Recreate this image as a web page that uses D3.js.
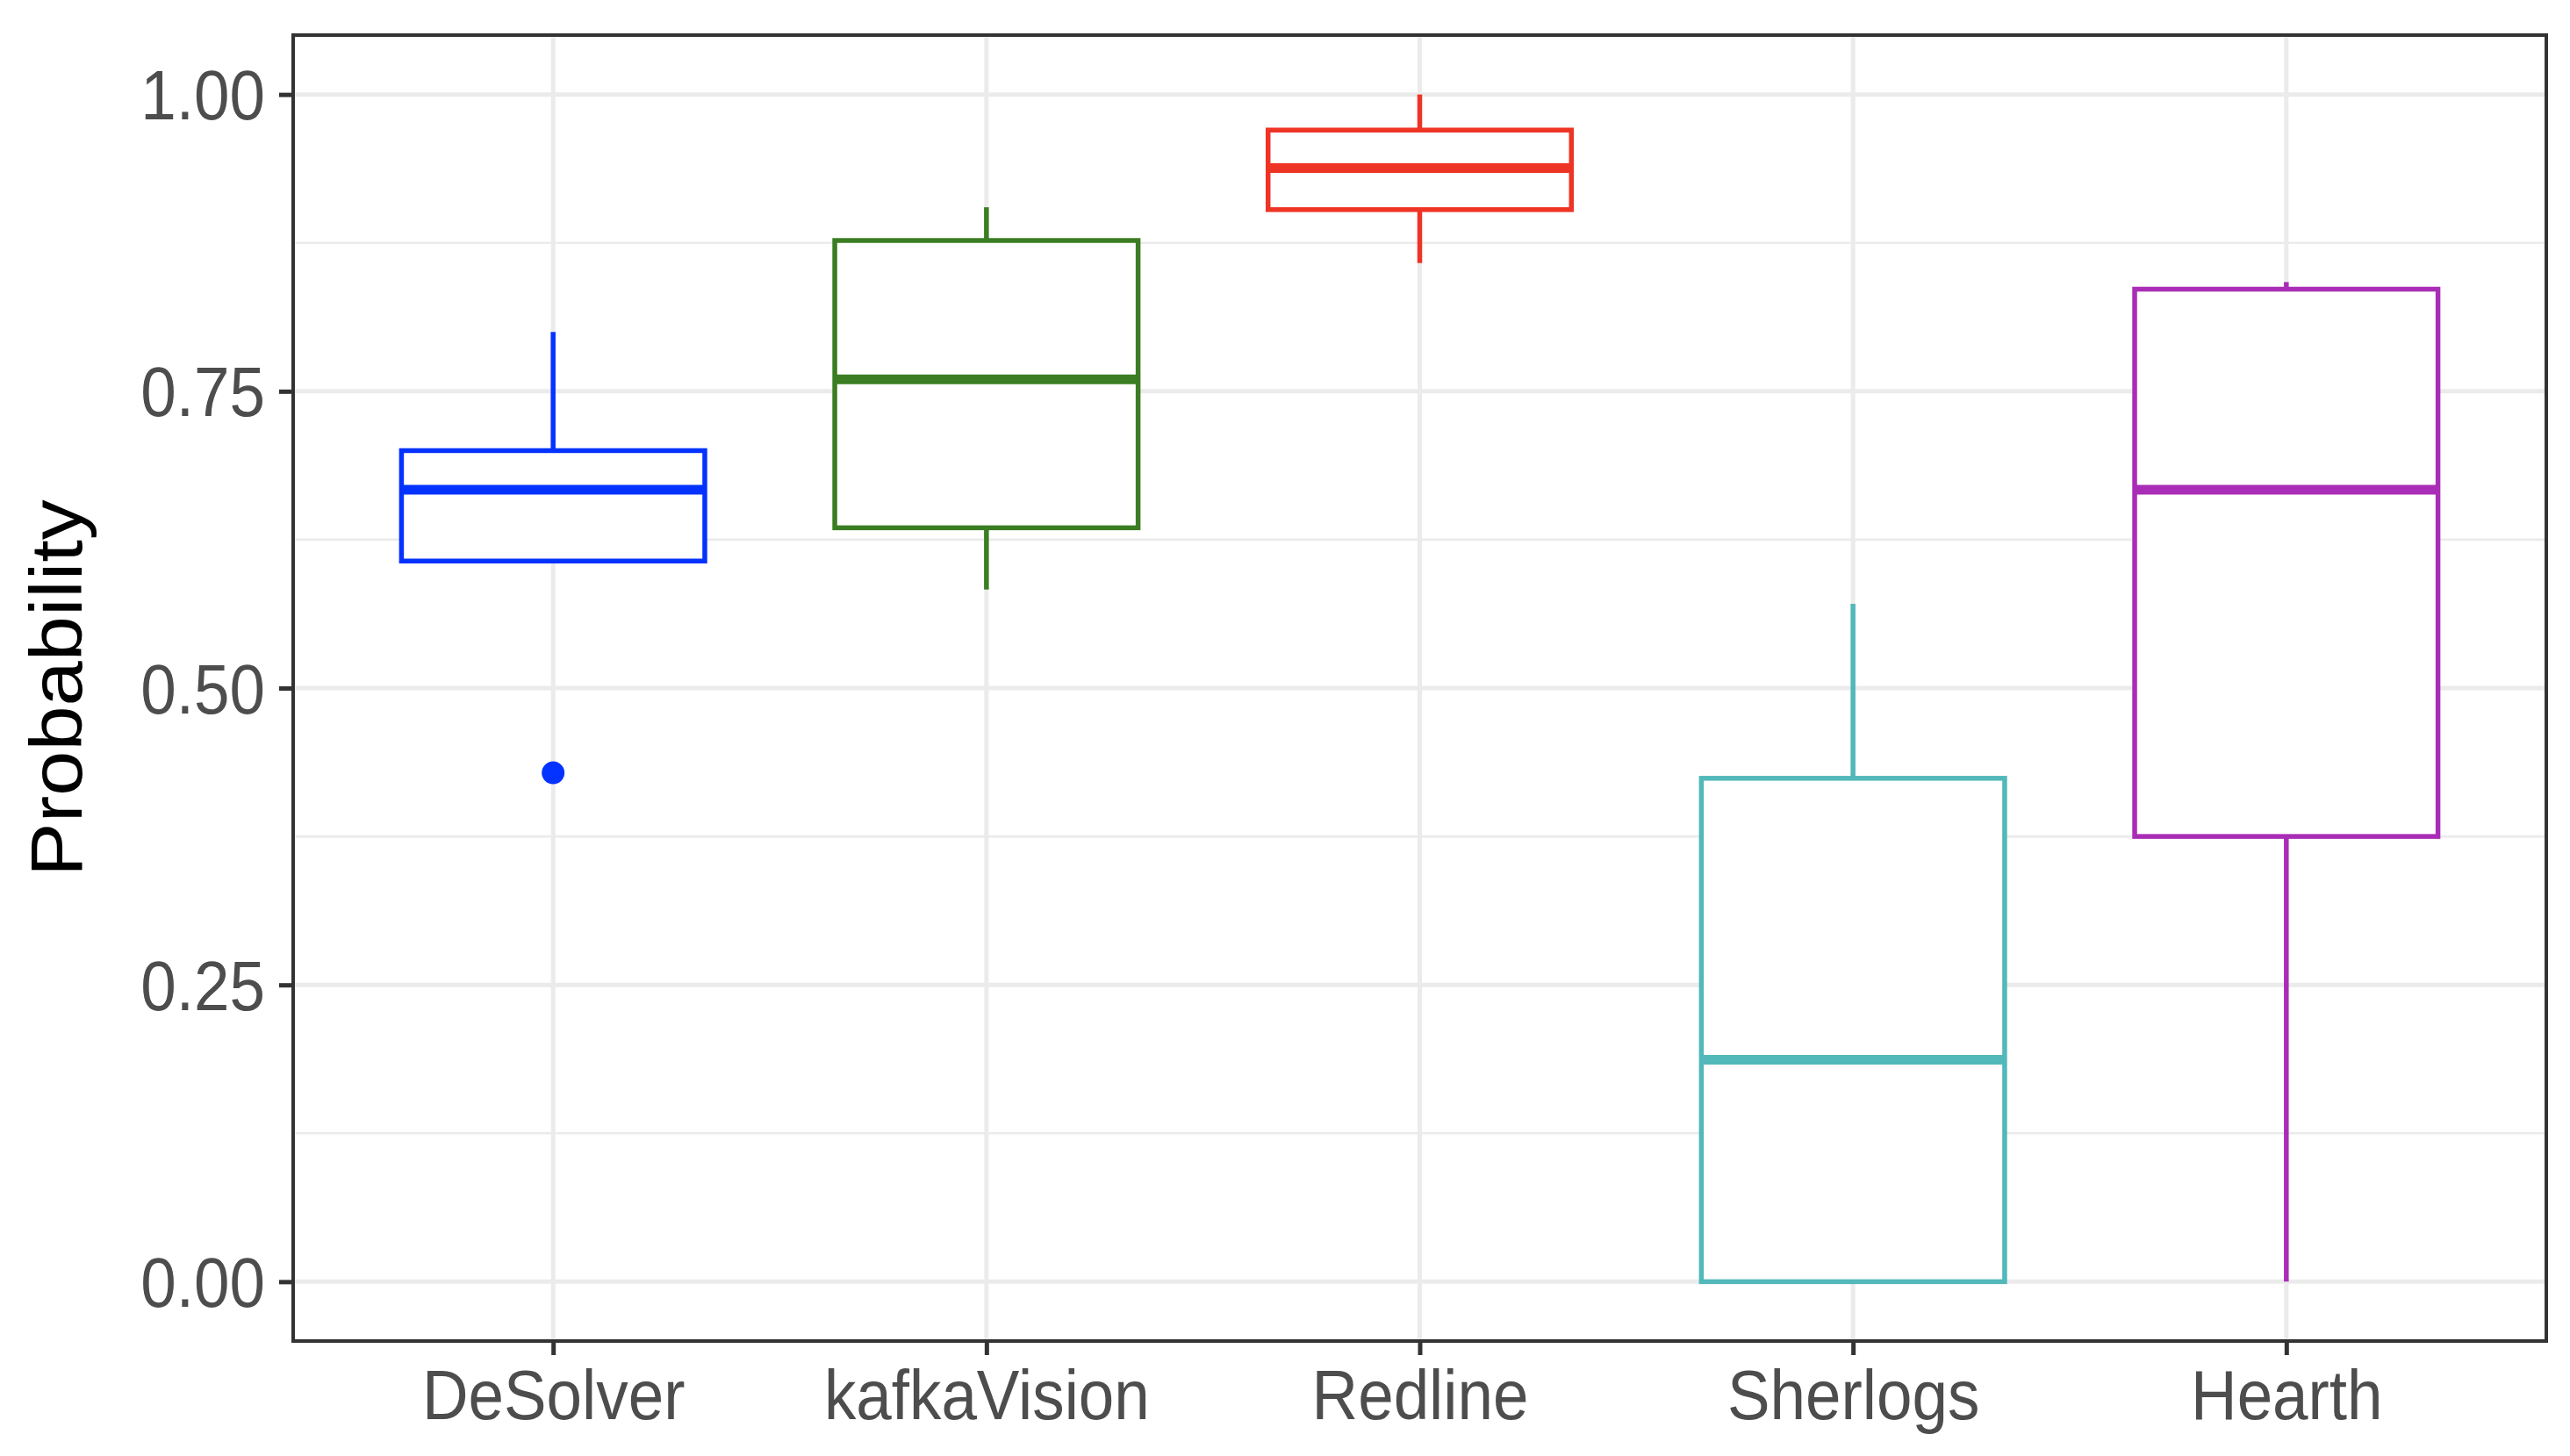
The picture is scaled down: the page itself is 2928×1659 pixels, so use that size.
<!DOCTYPE html>
<html>
<head>
<meta charset="utf-8">
<script src="https://cdn.jsdelivr.net/npm/d3@7"></script>
<style>
  body { margin: 0; background: #fff; }
  text { font-family: "Liberation Sans", Arial, sans-serif; }
</style>
</head>
<body>
<svg id="chart"></svg>
<script>
// values
var tools = ["DeSolver", "kafkaVision", "Redline", "Sherlogs", "Hearth"];
var whiskerLow  = [0.607, 0.583, 0.858, 0.000, 0.000];
var q1          = [0.607, 0.635, 0.903, 0.000, 0.375];
var median      = [0.667, 0.760, 0.938, 0.187, 0.667];
var q3          = [0.700, 0.877, 0.970, 0.424, 0.836];
var whiskerHigh = [0.800, 0.905, 1.000, 0.571, 0.842];
var outlierTool = ["DeSolver"];
var outlierVal  = [0.4286];
var colors = ["#0432FF", "#3A7D22", "#EE3424", "#52B8BA", "#A92DB6"];
var yTicks = [0, 0.25, 0.5, 0.75, 1];
var yMinor = [0.125, 0.375, 0.625, 0.875];

var width = 2928,
    height = 1659,
    panelL = 334, panelR = 2901, panelT = 40, panelB = 1528,
    squeeze = 0.91;   // reference text is a bit narrow

var svg = d3.select('#chart')
    .attr('width', width)
    .attr('height', height);

var x = d3.scalePoint()
    .domain(tools)
    .range([panelL, panelR])
    .padding(0.6);

var y = d3.scaleLinear()
    .domain([-0.05, 1.05])
    .range([panelB, panelT]);

var boxW = x.step() * 0.7;

var boxes = tools.map(function(t, i) {
  return { tool: t, lo: whiskerLow[i], q1: q1[i], med: median[i], q3: q3[i], hi: whiskerHigh[i], color: colors[i] };
});

// grid
var grid = svg.append('g');
grid.selectAll('.minor').data(yMinor).enter().append('line')
    .attr('x1', panelL).attr('x2', panelR)
    .attr('y1', function(d) { return y(d) }).attr('y2', function(d) { return y(d) })
    .style('stroke', '#EBEBEB').style('stroke-width', 2.6);
grid.selectAll('.majorY').data(yTicks).enter().append('line')
    .attr('x1', panelL).attr('x2', panelR)
    .attr('y1', function(d) { return y(d) }).attr('y2', function(d) { return y(d) })
    .style('stroke', '#EBEBEB').style('stroke-width', 5);
grid.selectAll('.majorX').data(tools).enter().append('line')
    .attr('x1', function(d) { return x(d) }).attr('x2', function(d) { return x(d) })
    .attr('y1', panelT).attr('y2', panelB)
    .style('stroke', '#EBEBEB').style('stroke-width', 5);

// boxplots
var g = svg.append('g').selectAll('g').data(boxes).enter().append('g')
    .style('stroke', function(d) { return d.color })
    .style('stroke-width', 5.5);

g.append('line')
    .attr('x1', function(d) { return x(d.tool) }).attr('x2', function(d) { return x(d.tool) })
    .attr('y1', function(d) { return y(d.hi) }).attr('y2', function(d) { return y(d.q3) });
g.append('line')
    .attr('x1', function(d) { return x(d.tool) }).attr('x2', function(d) { return x(d.tool) })
    .attr('y1', function(d) { return y(d.q1) }).attr('y2', function(d) { return y(d.lo) });
g.append('rect')
    .attr('x', function(d) { return x(d.tool) - boxW / 2 })
    .attr('width', boxW)
    .attr('y', function(d) { return y(d.q3) })
    .attr('height', function(d) { return y(d.q1) - y(d.q3) })
    .style('fill', '#fff');
g.append('line')
    .attr('x1', function(d) { return x(d.tool) - boxW / 2 })
    .attr('x2', function(d) { return x(d.tool) + boxW / 2 })
    .attr('y1', function(d) { return y(d.med) }).attr('y2', function(d) { return y(d.med) })
    .style('stroke-width', 11);

svg.append('g').selectAll('circle').data(outlierTool).enter().append('circle')
    .attr('cx', function(d) { return x(d) })
    .attr('cy', function(d, i) { return y(outlierVal[i]) })
    .attr('r', 13)
    .style('fill', function(d) { return colors[tools.indexOf(d)] });

// panel border
svg.append('rect')
    .attr('x', panelL).attr('y', panelT)
    .attr('width', panelR - panelL).attr('height', panelB - panelT)
    .style('fill', 'none').style('stroke', '#333333').style('stroke-width', 4);

// axes
var yAxis = svg.append('g')
    .attr('transform', 'translate(' + panelL + ',0)')
    .call(d3.axisLeft(y).tickValues(yTicks).tickSize(16).tickPadding(0)
          .tickFormat(d3.format('.2f')));
var xAxis = svg.append('g')
    .attr('transform', 'translate(0,' + panelB + ')')
    .call(d3.axisBottom(x).tickSize(16).tickPadding(0));

[yAxis, xAxis].forEach(function(a) {
  a.select('.domain').remove();
  a.selectAll('.tick line').style('stroke', '#333333').style('stroke-width', 5);
  a.selectAll('.tick text')
      .style('font-size', '80px')
      .style('fill', '#4D4D4D')
      .attr('x', null).attr('y', null).attr('dy', null);
});
yAxis.selectAll('.tick text')
    .attr('transform', 'translate(-32,28) scale(' + squeeze + ',1)');
xAxis.selectAll('.tick text')
    .attr('text-anchor', 'middle')
    .attr('transform', 'translate(0,89) scale(' + squeeze + ',1)');

svg.append('text')
    .attr('transform', 'translate(93,' + ((panelT + panelB) / 2) + ') scale(' + squeeze + ',1) rotate(-90)')
    .attr('text-anchor', 'middle')
    .style('font-size', '92px')
    .style('fill', '#000')
    .text('Probability');
</script>
</body>
</html>
